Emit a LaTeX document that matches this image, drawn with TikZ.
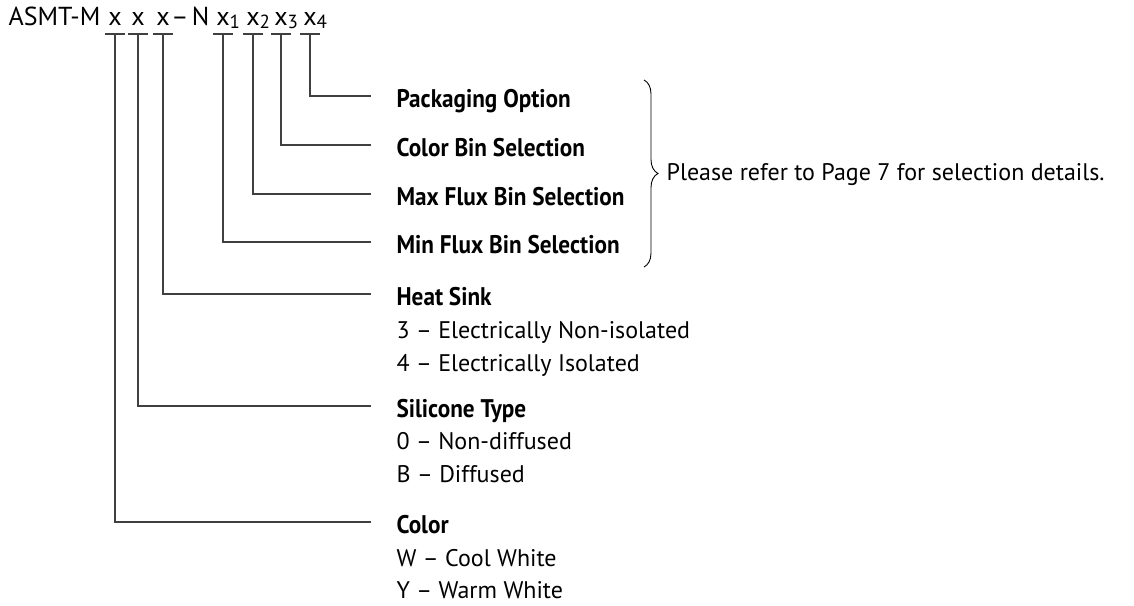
\documentclass[tikz,border=0pt]{standalone}
\usepackage{fontspec}
\setmainfont{PT Sans}
\usepackage{graphicx}
\usetikzlibrary{decorations.pathreplacing}

\newcommand\hd[1]{\scalebox{0.91}[1]{\bfseries #1}}
\newcommand\subn[1]{\rlap{\raisebox{-3pt}{\fontsize{19}{19}\selectfont #1}}}

\begin{document}
\begin{tikzpicture}[x=1pt, y=-1pt, line width=1.2pt, line cap=butt,
  code/.style={anchor=base, inner sep=0pt, font=\fontsize{26}{30}\selectfont},
  head/.style={anchor=base west, inner sep=0pt, text height=23pt, text depth=0pt, font=\fontsize{25.5}{30}\selectfont},
  opts/.style={anchor=base west, inner sep=0pt, align=left, font=\fontsize{24}{32.5}\selectfont},
  lead/.style={draw=black!75, line width=1.3pt}]

  %% ════ part number ════
  \node[code, anchor=base west] (pre) at (8,25) {ASMT-M};
  \node[code] (c1) at (115,25) {x};
  \node[code] (c2) at (138,25) {x};
  \node[code] (c3) at (163,25) {x};
  \node[code] (dash) at (180,25) {–};
  \node[code] (nn) at (200.5,25) {N};
  \node[code] (c4) at (223,25) {x\subn{1}};
  \node[code] (c5) at (253,25) {x\subn{2}};
  \node[code] (c6) at (281,25) {x\subn{3}};
  \node[code] (c7) at (310,25) {x\subn{4}};

  %% ════ ticks under each digit ════
  \coordinate (tickrow) at (0,34);
  \foreach \c in {1,...,7} {
    \coordinate (t\c) at (c\c.base |- tickrow);
    \draw[lead] ([xshift=-10pt]t\c) -- ([xshift=10pt]t\c);
  }

  %% ════ labels ════
  \node[head] (pack) at (396,107.5) {\hd{Packaging Option}};
  \node[head] (cbin) at (396,156.5) {\hd{Color Bin Selection}};
  \node[head] (maxf) at (396,205.5) {\hd{Max Flux Bin Selection}};
  \node[head] (minf) at (396,253.5) {\hd{Min Flux Bin Selection}};
  \node[head] (heat) at (396,305.5) {\hd{Heat Sink}};
  \node[opts] (heato) at (396,371) {3 – Electrically Non-isolated\\4 – Electrically Isolated};
  \node[head] (sil) at (396,417.5) {\hd{Silicone Type}};
  \node[opts] (silo) at (396,482) {0 – Non-diffused\\B – Diffused};
  \node[head] (col) at (396,533.5) {\hd{Color}};
  \node[opts] (colo) at (396,598.5) {W – Cool White\\Y – Warm White};

  %% ════ leaders ════
  \draw[lead] (t7) |- ([xshift=-25pt]pack.west);
  \draw[lead] (t6) |- ([xshift=-25pt]cbin.west);
  \draw[lead] (t5) |- ([xshift=-25pt]maxf.west);
  \draw[lead] (t4) |- ([xshift=-25pt]minf.west);
  \draw[lead] (t3) |- ([xshift=-25pt]heat.west);
  \draw[lead] (t2) |- ([xshift=-25pt]sil.west);
  \draw[lead] (t1) |- ([xshift=-25pt]col.west);

  %% ════ brace + note ════
  \coordinate (brtop) at (644,80);
  \coordinate (brbot) at (644,267);
  \draw[line width=0.9pt, decorate, decoration={brace, amplitude=14pt}] (brtop) -- (brbot);
  \node[opts] (note) at (666,180) {Please refer to Page 7 for selection details.};

  \pgfresetboundingbox
  \path[use as bounding box] (0,0) rectangle (1134,605);
\end{tikzpicture}
\end{document}
